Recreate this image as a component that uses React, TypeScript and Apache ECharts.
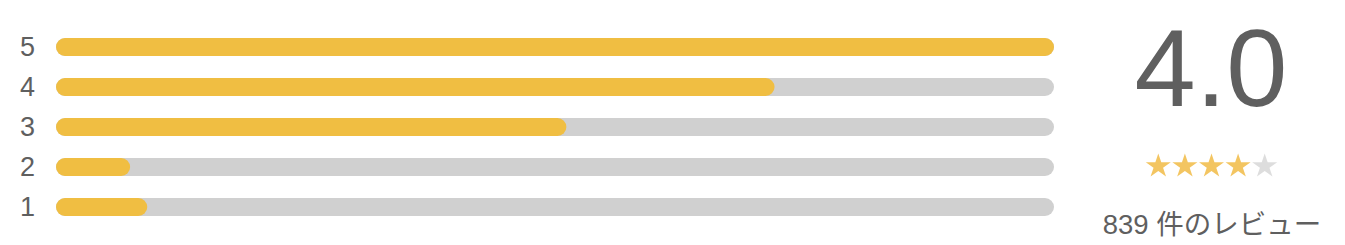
import React, { useEffect, useRef } from "react";
import * as echarts from "echarts";

// Rating levels (bottom to top) and review counts per level
const ratingLevels = ["1", "2", "3", "4", "5"];
const reviewCounts = [32, 26, 179, 252, 350];
const starSlots = ["s1", "s2", "s3", "s4", "s5"];

const GOLD = "#f0be42";
const STAR_GOLD = "#f0b73a";
const TRACK = "#d0d0d0";
const TEXT = "#5f5f5f";

const STAR_PATH =
  "path://M100 0 L122.45 69.1 L195.1 69.1 L136.3 111.8 L158.8 180.9 L100 138.2 L41.2 180.9 L63.7 111.8 L4.9 69.1 L77.55 69.1 Z";

export default function App() {
  const ref = useRef<HTMLDivElement>(null);

  useEffect(() => {
    if (!ref.current) return;
    const chart = echarts.init(ref.current, null, { renderer: "svg" });
    const total = reviewCounts.reduce((a, b) => a + b, 0);
    const weighted = reviewCounts.reduce((a, c, i) => a + c * Number(ratingLevels[i]), 0);
    const avg = weighted / total;
    const avgText = avg.toFixed(1);
    const filled = Math.round(avg);
    const maxCount = Math.max(...reviewCounts);

    chart.setOption({
      animation: false,
      grid: [
        { left: 56, width: 998, top: 27, height: 200 },
        { left: 1145, width: 133, top: 154, height: 22 },
      ],
      xAxis: [
        {
          gridIndex: 0,
          type: "value",
          min: 0,
          max: maxCount,
          show: false,
        },
        {
          gridIndex: 1,
          type: "category",
          data: starSlots,
          show: false,
        },
      ],
      yAxis: [
        {
          gridIndex: 0,
          type: "category",
          data: ratingLevels,
          axisLine: { show: false },
          axisTick: { show: false },
          splitLine: { show: false },
          axisLabel: {
            color: TEXT,
            fontSize: 27,
            fontFamily: "Liberation Sans, Arial, sans-serif",
            margin: 21,
          },
        },
        {
          gridIndex: 1,
          type: "value",
          min: 0,
          max: 1,
          show: false,
        },
      ],
      series: [
        {
          type: "bar",
          xAxisIndex: 0,
          yAxisIndex: 0,
          data: reviewCounts,
          barWidth: 18,
          showBackground: true,
          backgroundStyle: { color: TRACK, borderRadius: 9 },
          itemStyle: { color: GOLD, borderRadius: 9 },
          silent: true,
        },
        {
          type: "scatter",
          xAxisIndex: 1,
          yAxisIndex: 1,
          symbol: STAR_PATH,
          symbolSize: [25, 23],
          silent: true,
          data: starSlots.map((s, i) => ({
            value: [s, 0.5],
            itemStyle: { color: i < filled ? STAR_GOLD : "#d4d4d4" },
          })),
        },
      ],
      graphic: [
        {
          type: "text",
          x: 1211,
          y: 67,
          style: {
            text: avgText,
            fill: TEXT,
            fontSize: 110,
            fontFamily: "Liberation Sans, Arial, sans-serif",
            align: "center",
            verticalAlign: "middle",
          },
        },
        {
          type: "text",
          x: 1212,
          y: 224,
          style: {
            text: `${total} 件のレビュー`,
            fill: TEXT,
            fontSize: 27.5,
            fontFamily: "Liberation Sans, Noto Sans CJK JP, sans-serif",
            align: "center",
            verticalAlign: "middle",
          },
        },
      ],
    });
    return () => chart.dispose();
  }, []);

  return (
    <div
      ref={ref}
      style={{ position: "fixed", left: 0, top: 0, width: 1345, height: 245, background: "#fff" }}
    />
  );
}
